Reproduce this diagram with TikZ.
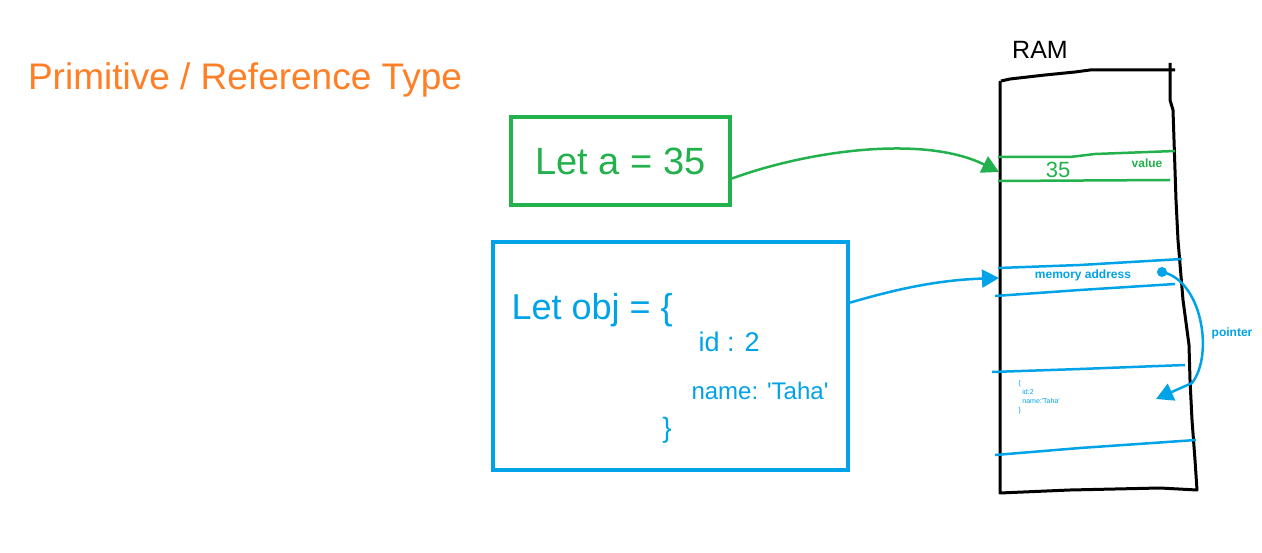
\documentclass[tikz,border=0pt]{standalone}
\usepackage{fontspec}
\setmainfont{Liberation Sans}
\usetikzlibrary{arrows.meta, positioning, calc}
\definecolor{PaintGreen}{HTML}{22B14C}
\definecolor{PaintBlue}{HTML}{00A2E8}
\definecolor{PaintOrange}{HTML}{FF7F27}

\begin{document}
\begin{tikzpicture}[x=1pt, y=-1pt,
    cellline/.style={line width=2.5pt},
    memlabel/.style={font=\fontsize{12}{14}\selectfont\bfseries},
    tipline/.style={line width=2.5pt, -{Triangle[length=17pt, width=18pt]}}]
\useasboundingbox (0,0) rectangle (1262,553);
\node[color=PaintOrange, font=\fontsize{37}{44}\selectfont] (title) at (245,80) {Primitive / Reference Type};
% code boxes
\node[draw=PaintGreen, line width=4pt, minimum width=219pt, minimum height=88pt, text=PaintGreen, font=\fontsize{38}{44}\selectfont] (letA) at (620.5,161) {Let a = 35};
\node[draw=PaintBlue, line width=4pt, minimum width=355pt, minimum height=228pt] (letObj) at (670.5,356) {};
\node[anchor=base west, text=PaintBlue, font=\fontsize{36}{40}\selectfont] (objHead) at (508,320) {Let obj = \{};
\node[anchor=base west, text=PaintBlue, font=\fontsize{27}{30}\selectfont] (objId) at (695,352) {id : 2};
\node[anchor=base west, text=PaintBlue, font=\fontsize{24}{28}\selectfont] (objName) at (688,400) {name: \textquotesingle Taha\textquotesingle};
\node[text=PaintBlue, font=\fontsize{28}{32}\selectfont] (objEnd) at (667,430) {\}};
% RAM
\node[font=\fontsize{25}{30}\selectfont] (ram) at (1040,50) {RAM};
\draw[line width=3pt, line join=round] (1001,81) -- (1010,79) -- (1045,75) -- (1075,72) -- (1090,70) -- (1175,70);
\draw[line width=3pt, line join=round] (1170,63) -- (1170,100) -- (1173,110) -- (1174,140) -- (1176,200) -- (1178,240) -- (1183,300) -- (1189,345) -- (1190,380) -- (1192,420) -- (1195,460) -- (1197,490) -- (1160,488) -- (1070,490) -- (1000,493) -- (1000,81);
% value cell
\draw[cellline, color=PaintGreen] (998,157) -- (1070,157) -- (1095,154) -- (1175,151);
\draw[cellline, color=PaintGreen] (998,181) -- (1170,180);
\node[text=PaintGreen, font=\fontsize{22}{26}\selectfont] (val) at (1058,170) {35};
\node[memlabel, text=PaintGreen] (valTag) at (1147,163) {value};
% object cells
\draw[cellline, color=PaintBlue] (998,268) -- (1080,265) -- (1182,259);
\draw[cellline, color=PaintBlue] (995,296) -- (1080,290) -- (1175,284);
\draw[cellline, color=PaintBlue] (992,372) -- (1080,369) -- (1185,365);
\draw[cellline, color=PaintBlue] (995,455) -- (1080,448) -- (1196,440);
\node[memlabel, text=PaintBlue] (addr) at (1083,275) {memory address};
\node[text=PaintBlue, font=\fontsize{7}{8}\selectfont, align=left, anchor=north west] (objCopy) at (1015,377) {\{\\[1pt]\ \ id:2\\[1pt]\ \ name:\textquotesingle Taha\textquotesingle\\[1pt]\}};
% arrows
\coordinate (valueIn) at (999,172);
\coordinate (addrIn) at (999,278);
\coordinate (ptrStart) at (1162,272);
\coordinate (ptrBend) at (1192,383);
\coordinate (ptrEnd) at (1156,399);
\coordinate (letAOut) at ($(letA.north east)!0.69!(letA.south east)$);
\coordinate (letObjOut) at ($(letObj.north east)!0.27!(letObj.south east)$);
\draw[tipline, color=PaintGreen] (letAOut) .. controls (810,150) and (925,135) .. (valueIn);
\draw[tipline, color=PaintBlue] (letObjOut) .. controls (900,288) and (940,280) .. (addrIn);
\fill[PaintBlue] (ptrStart) circle (5pt);
\draw[tipline, color=PaintBlue] (ptrStart) .. controls (1202,280) and (1214,355) .. (ptrBend) -- (ptrEnd);
\node[memlabel, text=PaintBlue] (ptr) at (1232,333) {pointer};
\end{tikzpicture}
\end{document}
